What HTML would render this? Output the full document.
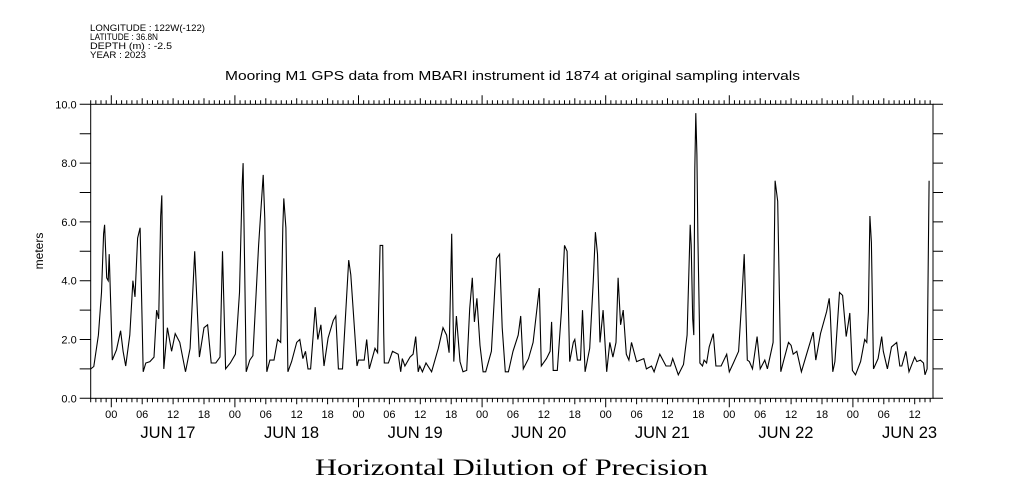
<!DOCTYPE html>
<html><head><meta charset="utf-8"><style>
html,body{margin:0;padding:0;background:#fff}
svg{display:block}
text{font-family:"Liberation Sans",sans-serif;fill:#000}
</style></head><body>
<svg id="chart" width="1009" height="504" viewBox="0 0 1009 504" xmlns="http://www.w3.org/2000/svg">
<g font-size="9.5">
<text x="90" y="31" textLength="115" lengthAdjust="spacingAndGlyphs">LONGITUDE : 122W(-122)</text>
<text x="90" y="40" textLength="68" lengthAdjust="spacingAndGlyphs">LATITUDE : 36.8N</text>
<text x="90" y="49" textLength="82" lengthAdjust="spacingAndGlyphs">DEPTH (m) : -2.5</text>
<text x="90" y="58" textLength="56" lengthAdjust="spacingAndGlyphs">YEAR : 2023</text>
</g>
<text x="225" y="80" font-size="13" textLength="575" lengthAdjust="spacingAndGlyphs">Mooring M1 GPS data from MBARI instrument id 1874 at original sampling intervals</text>
<text transform="translate(43,251) rotate(-90)" font-size="12" text-anchor="middle">meters</text>
<text x="315" y="475" font-size="23" textLength="393" lengthAdjust="spacingAndGlyphs" style="font-family:'Liberation Serif',serif">Horizontal Dilution of Precision</text>
<rect x="90.7" y="104.3" width="842.3" height="294" fill="none" stroke="#000" stroke-width="1"/>
<g id="axes"></g>
<g id="series"></g>
</svg>
<script>
// hours since Jun 16 20:00
const hours=[0,0.6,1.5,2.1,2.5,2.7,3.1,3.4,3.6,3.9,4.2,5.0,5.8,6.3,6.8,7.6,8.2,8.6,9.1,9.6,10.2,10.7,11.5,12.3,12.8,13.2,13.6,13.8,14.1,14.2,14.9,15.7,16.4,17.3,18.4,19.3,20.2,21.1,22.0,22.7,23.4,24.3,25.1,25.6,26.2,27.1,28.1,28.9,29.4,29.6,30.2,30.9,31.5,32.6,33.5,33.8,34.2,34.8,35.6,36.3,36.9,37.3,37.5,37.9,38.3,39.0,40.0,40.6,41.2,41.7,42.2,42.7,43.2,43.6,44.1,44.7,45.3,46.1,47.1,47.6,48.1,48.9,50.1,50.5,51.7,52.0,53.1,53.6,54.1,55.2,55.7,56.2,56.7,56.9,57.0,57.8,58.6,59.7,60.2,60.5,61.0,62.0,62.6,63.1,63.6,63.9,64.4,65.1,66.2,67.5,68.4,69.1,69.6,70.1,70.5,71.0,71.7,72.3,73.0,73.6,74.1,74.5,75.0,75.6,76.2,76.7,77.8,78.8,79.4,79.9,80.5,81.1,82.0,83.0,83.5,84.0,85.0,85.9,87.1,87.5,88.5,89.2,89.5,89.8,90.6,91.4,92.0,92.5,93.0,93.7,94.0,94.5,95.1,95.5,96.0,96.9,97.6,98.0,98.4,98.9,99.5,100.2,100.8,101.4,102.0,102.4,102.9,103.4,104.0,104.5,105.0,106.0,107.4,107.9,108.9,109.4,110.5,111.7,112.6,113.0,114.1,115.1,115.8,116.4,116.6,116.9,117.1,117.3,117.5,117.7,117.9,118.2,118.3,118.8,119.1,119.6,120.1,120.9,121.4,122.4,123.5,124.0,124.8,125.8,126.4,126.9,127.5,127.9,128.5,129.4,130.0,130.9,131.4,132.5,132.9,133.4,134.0,134.5,135.5,136.0,136.4,137.1,138.0,139.0,140.3,140.8,141.7,142.9,143.4,143.6,144.1,144.5,145.4,146.0,146.7,147.1,147.4,147.9,148.5,149.5,150.3,150.7,151.0,151.3,151.6,152.0,152.9,153.6,153.9,154.7,155.5,156.5,157.1,157.5,158.3,158.9,160.0,160.4,161.1,161.7,162.0,162.4,162.7,162.8];
const hdop=[1.0,1.08,2.15,3.6,5.6,5.9,4.1,4.0,4.9,3.1,1.3,1.65,2.3,1.6,1.1,2.15,4.0,3.45,5.45,5.8,0.9,1.2,1.25,1.4,3.0,2.7,6.2,6.9,2.45,1.0,2.4,1.6,2.2,1.9,0.9,1.7,5.0,1.4,2.4,2.5,1.2,1.2,1.4,5.0,1.0,1.2,1.5,3.6,7.2,8.0,0.9,1.3,1.45,5.2,7.6,6.1,0.9,1.3,1.3,2.0,1.9,5.8,6.8,5.8,0.9,1.25,1.9,2.0,1.35,1.6,1.0,1.0,2.15,3.1,2.0,2.5,1.1,2.05,2.65,2.8,1.0,1.0,4.7,4.2,1.1,1.3,1.3,2.0,1.0,1.7,1.55,5.2,5.2,2.2,1.2,1.2,1.6,1.5,0.9,1.35,1.1,1.4,1.5,2.1,0.9,1.1,0.9,1.2,0.9,1.7,2.4,2.15,1.55,5.6,1.25,2.8,1.25,0.9,0.95,3.05,4.1,2.6,3.4,1.8,0.9,0.9,1.6,4.75,4.9,2.4,0.9,0.9,1.6,2.15,2.8,1.0,1.35,1.9,3.75,1.1,1.35,1.6,2.6,0.95,0.95,2.95,5.2,5.0,1.25,1.9,2.0,1.3,1.3,3.0,0.9,1.7,4.0,5.65,4.9,1.9,3.0,0.9,1.9,1.4,1.9,4.1,2.5,3.0,1.5,1.3,1.9,1.25,1.35,1.0,1.1,0.9,1.5,1.1,1.1,1.35,0.8,1.15,2.15,5.9,5.2,2.7,2.15,7.8,9.7,8.3,5.45,2.6,1.2,1.1,1.3,1.2,1.75,2.2,1.1,1.1,1.5,0.9,1.2,1.6,3.3,4.9,1.3,1.25,1.0,2.1,1.0,1.3,1.0,1.9,7.4,6.7,0.9,1.25,1.9,1.8,1.5,1.6,0.9,1.5,2.25,1.3,2.2,2.95,3.4,2.95,0.9,1.25,3.6,3.5,2.1,2.55,2.9,0.95,0.8,1.25,2.0,1.9,2.95,6.2,5.3,1.0,1.35,2.1,1.6,1.0,1.75,1.9,1.1,1.1,1.6,0.9,1.4,1.25,1.3,1.2,0.8,1.0,5.8,7.4];
const yTickLabels=["0.0","2.0","4.0","6.0","8.0","10.0"];
const dayLabels=["JUN 17","JUN 18","JUN 19","JUN 20","JUN 21","JUN 22","JUN 23"];
const hourLabels=["00","06","12","18"];

const X0=90.7,X1=933,Y0=398.3,Y1=104.3,HPX=5.15,TOTAL=(X1-X0)/HPX;
const xs=h=>X0+h*HPX;
const ys=v=>Y0-(v/10)*(Y0-Y1);
const NS="http://www.w3.org/2000/svg";
const axes=document.getElementById('axes');
function mk(tag,attrs,parent){const e=document.createElementNS(NS,tag);for(const k in attrs)e.setAttribute(k,attrs[k]);parent.appendChild(e);return e;}
let ticks="";
for(let v=0;v<=10;v++){const y=ys(v);ticks+=`M${X0-11},${y}H${X0}M${X1},${y}H${X1+10}`;}
for(let h=0;h<=Math.floor(TOTAL);h++){
  const abs=(h+20)%24; const x=xs(h);
  const len=abs===0?9:(abs%6===0?6:4);
  ticks+=`M${x},${Y0}V${Y0+len}M${x},${Y1}V${Y1-len}`;
}
const tp=mk('path',{d:ticks,stroke:'#000','stroke-width':1,fill:'none'},axes);


yTickLabels.forEach((l,i)=>{
  const t=mk('text',{x:X0-14,y:ys(i*2)+4,'font-size':11,'text-anchor':'end'},axes);
  t.textContent=l;
  
  
});
for(let h=4;h<=TOTAL;h+=6){
  const abs=(h+20)%24;
  const t=mk('text',{x:xs(h),y:418,'font-size':11,'text-anchor':'middle'},axes);
  t.textContent=hourLabels[abs/6];
  
  
}
dayLabels.forEach((l,i)=>{
  const h=4+24*i+11;
  const t=mk('text',{x:xs(h),y:438,'font-size':16.5,'text-anchor':'middle'},axes);
  t.textContent=l;
  
  
});
const pts=hours.map((h,i)=>xs(h).toFixed(1)+','+ys(hdop[i]).toFixed(1)).join(' ');
const line=mk('polyline',{points:pts,fill:'none',stroke:'#000','stroke-width':1.1},document.getElementById('series'));


</script>
</body></html>
